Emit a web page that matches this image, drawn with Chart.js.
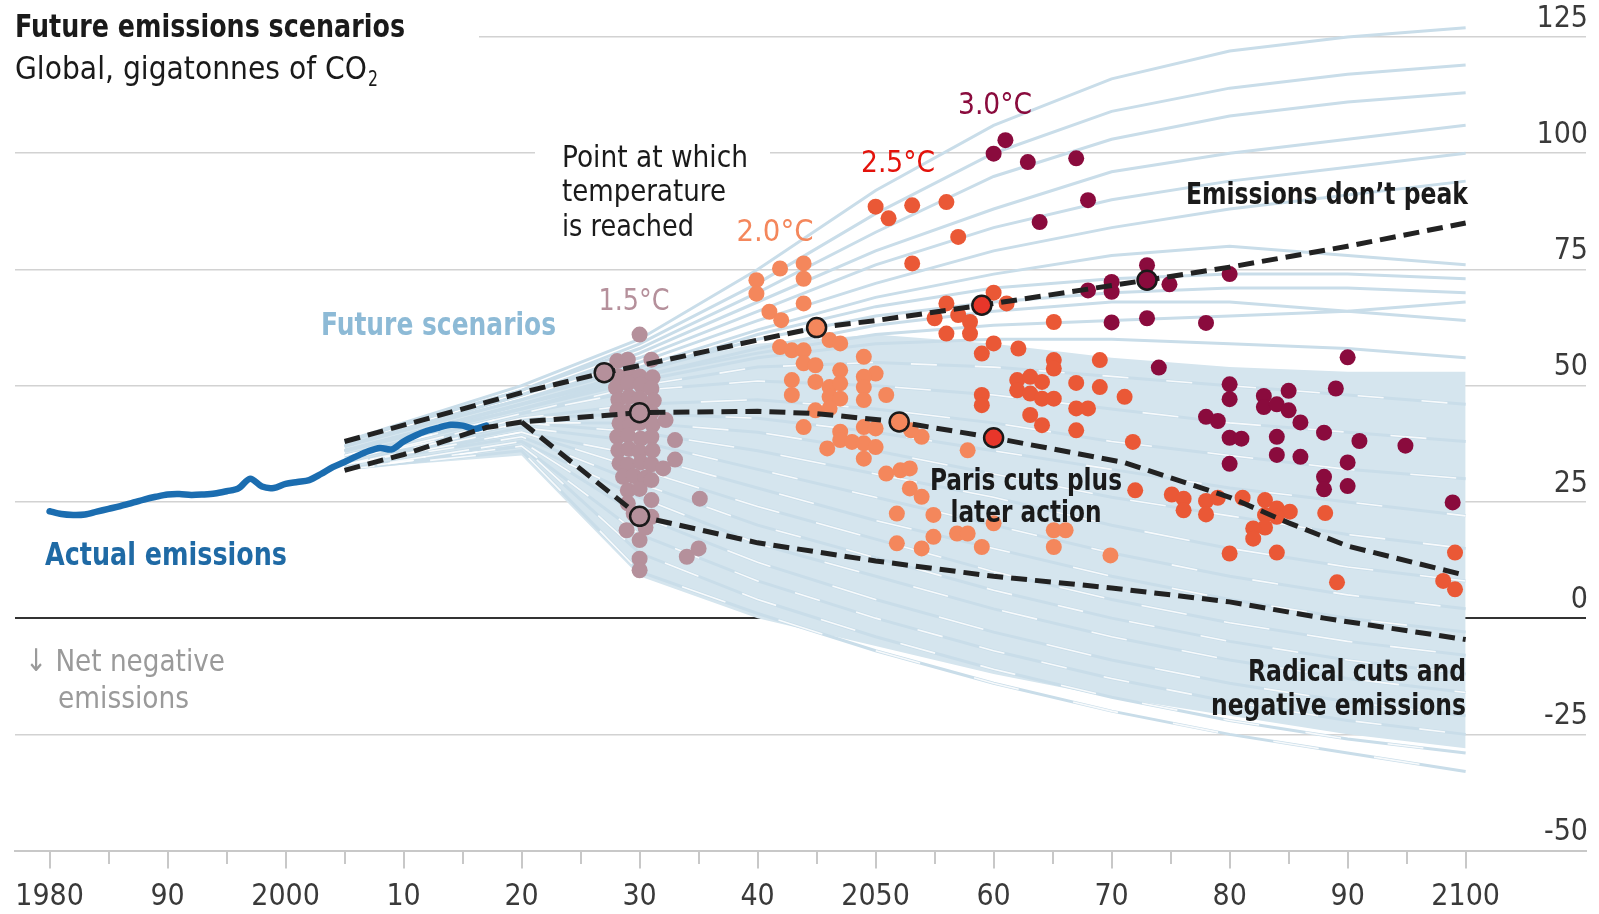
<!DOCTYPE html>
<html>
<head>
<meta charset="utf-8">
<script src="https://cdn.jsdelivr.net/npm/chart.js@4.4.0/dist/chart.umd.min.js"></script>
<style>
  html, body { margin: 0; padding: 0; background: #fff; }
  canvas { display: block; }
</style>
</head>
<body>
<canvas id="graficoEmisiones" width="1599" height="914"></canvas>
<script>
// ---- datos ----
const aniosEtiqueta = [1980, 1990, 2000, 2010, 2020, 2030, 2040, 2050, 2060, 2070, 2080, 2090, 2100];
const textosEtiqueta = ['1980', '90', '2000', '10', '20', '30', '40', '2050', '60', '70', '80', '90', '2100'];
const valoresEjeY = [-50, -25, 0, 25, 50, 75, 100, 125];

// emisiones reales
const aniosReales = [1980, 1981, 1982, 1983, 1984, 1985, 1986, 1987, 1988, 1989, 1990, 1991, 1992, 1993, 1994,
  1995, 1996, 1997, 1998, 1999, 2000, 2001, 2002, 2003, 2004, 2005, 2006, 2007, 2008, 2009, 2010, 2011, 2012,
  2013, 2014, 2015, 2016, 2017];
const emisionesReales = [23.0, 22.4, 22.2, 22.3, 22.9, 23.5, 24.1, 24.8, 25.5, 26.1, 26.6, 26.7, 26.5, 26.6, 26.8,
  27.3, 27.9, 30.0, 28.3, 28.0, 28.9, 29.3, 29.7, 31.0, 32.5, 33.6, 34.8, 35.9, 36.6, 36.3, 38.0, 39.3, 40.3,
  41.0, 41.6, 41.4, 40.7, 41.4];

// escenarios futuros (lineas celestes)
const aniosEscenario = [2005, 2020, 2030, 2040, 2050, 2060, 2070, 2080, 2090, 2100];
const escenariosAltos = [
  [38, 50, 60, 75, 92, 106, 116, 122, 125, 127],
  [38, 49, 59, 72, 87, 100, 109, 114, 117, 119],
  [38, 49, 58, 70, 83, 95, 103, 108, 111, 113],
  [37, 48, 57, 68, 79, 88, 96, 100, 103, 106],
  [37, 48, 56, 66, 76, 84, 90, 94, 97, 100],
  [37, 47, 55, 64, 72, 79, 84, 88, 91, 94],
  [37, 47, 54, 62, 69, 74, 78, 80, 78, 76],
  [36, 46, 53, 61, 67, 71, 73, 74, 74, 73],
  [36, 46, 53, 60, 65, 68, 70, 71, 71, 70],
  [36, 46, 52, 58, 63, 66, 68, 68, 66, 64],
  [36, 45, 52, 57, 61, 63, 64, 65, 66, 68],
  [36, 45, 51, 56, 59, 60, 60, 59, 58, 56]
];
const escenariosBajos = [
  [35, 44, 50, 54, 55, 54, 52, 50, 48, 46],
  [35, 44, 49, 51, 50, 48, 45, 42, 40, 38],
  [34, 43, 46, 47, 45, 42, 38, 35, 32, 30],
  [34, 43, 44, 43, 40, 36, 32, 28, 25, 22],
  [34, 42, 42, 40, 36, 31, 26, 22, 18, 15],
  [33, 42, 40, 36, 31, 26, 20, 15, 11, 8],
  [33, 41, 38, 32, 26, 20, 14, 9, 5, 2],
  [33, 40, 35, 28, 21, 15, 9, 4, 0, -3],
  [33, 40, 32, 24, 17, 10, 4, -1, -5, -8],
  [33, 39, 29, 20, 13, 6, 0, -5, -9, -12],
  [32, 38, 26, 16, 9, 2, -4, -9, -13, -16],
  [32, 38, 22, 12, 4, -3, -9, -14, -18, -21],
  [32, 37, 18, 8, 0, -7, -13, -18, -22, -25],
  [32, 37, 14, 4, -4, -11, -17, -22, -26, -29],
  [32, 36, 10, 1, -7, -14, -20, -25, -29, -33]
];
const bandaSuperior = [38, 47, 54, 59, 61, 59, 56, 54, 53, 53];
const bandaInferior = [32, 35, 9, 0, -6, -12, -17, -21, -25, -28];

// tres caminos (lineas punteadas)
const aniosSinPico = [2005, 2010, 2020, 2027, 2030, 2040, 2045, 2050, 2059, 2073, 2080, 2090, 2100];
const valoresSinPico = [38, 41.5, 48.5, 52.8, 54.3, 59.8, 62.5, 64, 67.3, 72.7, 75.5, 80, 85];
const aniosParis = [2005, 2010, 2017, 2020, 2030, 2040, 2045, 2052, 2060, 2071, 2080, 2085, 2090, 2100];
const valoresParis = [31.8, 35.2, 41, 42.2, 44.2, 44.5, 44, 42.2, 38.8, 33.5, 26, 20.5, 15.5, 9.2];
const aniosRadical = [2020, 2030, 2040, 2050, 2060, 2070, 2080, 2088, 2100];
const valoresRadical = [42.2, 21.9, 16.2, 12.3, 9, 6.5, 3.5, 0, -4.6];

// puntos donde se alcanza la temperatura, sobre los caminos
const marcadores15 = [[2027, 52.8], [2030, 44.2], [2030, 21.9]];
const marcadores20 = [[2045, 62.5], [2052, 42.2]];
const marcadores25 = [[2059, 67.3], [2060, 38.8]];
const marcadores30 = [[2073, 72.7]];

// puntos de cada escenario
const puntos15 = [
  [2030, 61], [2028.1, 55.3], [2029, 55.6], [2031, 55.6],
  [2028.2, 52], [2029.1, 52.4], [2030, 52], [2031.1, 51.8],
  [2028, 49.6], [2029, 50.5], [2030.1, 50.2], [2031, 49.4],
  [2028.2, 47], [2029.1, 47.6], [2030, 47.3], [2031.2, 46.8],
  [2028.1, 44.7], [2029, 44.4], [2030.1, 45], [2031, 44.2],
  [2028.3, 41.9], [2029.2, 41.5], [2030, 42], [2031.1, 41.6],
  [2028.1, 39], [2029, 39.3], [2030.1, 38.6], [2031, 39],
  [2028.2, 36.1], [2029.1, 36.4], [2030, 35.8], [2031.1, 36.1],
  [2028.3, 33.3], [2029, 33], [2030.1, 33.5], [2031, 33.1],
  [2028.6, 30.4], [2029.5, 30.6], [2030.5, 30.2],
  [2029, 27.5], [2030, 27.8],
  [2032.2, 42.6], [2033, 38.3], [2033, 34.1], [2032, 32.2], [2031, 29.7], [2035.1, 25.7],
  [2029, 24.7], [2031, 25.4], [2028.9, 18.9], [2030, 16.8], [2031, 21.8], [2030, 12.8],
  [2030, 10.3], [2034, 13.2], [2035, 15], [2029.5, 22.5], [2030.5, 19.5]
];
const puntos20 = [
  [2041.9, 75.2], [2043.9, 76.3], [2043.9, 73.0], [2039.9, 72.7], [2039.9, 69.8], [2043.9, 67.7],
  [2041.0, 65.9], [2042.0, 64.1], [2046.1, 59.8], [2047.0, 59.1], [2041.9, 58.3], [2042.9, 57.6],
  [2043.9, 57.6], [2043.9, 54.8], [2044.9, 54.4], [2047.0, 53.3], [2049.0, 56.2], [2050.0, 52.6],
  [2049.0, 51.9], [2042.9, 51.2], [2044.9, 50.8], [2046.1, 49.7], [2047.0, 50.5], [2042.9, 48.0],
  [2046.1, 47.6], [2047.0, 47.2], [2049.0, 49.7], [2049.0, 46.9], [2050.9, 48.0], [2044.9, 44.7],
  [2046.1, 45.1], [2043.9, 41.1], [2047.0, 40.1], [2049.0, 41.1], [2050.0, 40.8], [2045.9, 36.5],
  [2047.0, 38.3], [2048.0, 37.9], [2049.0, 37.6], [2050.0, 36.8], [2049.0, 34.3], [2050.9, 31.1],
  [2052.1, 31.8], [2052.9, 32.2], [2052.9, 27.9], [2053.9, 26.1], [2051.8, 22.5], [2051.8, 16.1],
  [2053.9, 15.0], [2053.9, 39.0], [2053.0, 40.4], [2057.8, 36.1], [2054.9, 22.2], [2054.9, 17.5],
  [2056.9, 18.2], [2057.8, 18.2], [2059.0, 15.3], [2060.0, 20.4], [2065.1, 18.9], [2066.1, 18.9],
  [2065.1, 15.3], [2069.9, 13.5]
];
const puntos25 = [
  [2050.0, 88.5], [2051.1, 86.0], [2053.1, 88.8], [2056.0, 89.5], [2057.0, 82.0], [2053.1, 76.3],
  [2060.0, 70.0], [2056.0, 67.7], [2061.1, 67.7], [2055.0, 64.5], [2057.0, 65.2], [2058.0, 63.7],
  [2056.0, 61.2], [2058.0, 61.2], [2065.1, 63.7], [2060.0, 59.1], [2059.0, 56.9], [2062.1, 58.0],
  [2065.1, 55.5], [2065.1, 53.7], [2069.0, 55.5], [2062.0, 51.2], [2063.1, 51.9], [2064.1, 50.8],
  [2062.0, 49.0], [2063.1, 48.3], [2064.1, 47.2], [2065.1, 47.2], [2067.0, 50.6], [2069.0, 49.7],
  [2071.1, 47.6], [2059.0, 48.0], [2059.0, 45.8], [2067.0, 45.1], [2068.0, 45.1], [2063.1, 43.7],
  [2064.1, 41.5], [2067.0, 40.4], [2071.8, 37.9], [2072.0, 27.5], [2075.1, 26.6], [2076.1, 25.7],
  [2076.1, 23.2], [2078.0, 25.2], [2078.0, 22.3], [2079.0, 25.9], [2081.1, 25.9], [2083.0, 25.4],
  [2084.0, 23.6], [2085.1, 22.9], [2083.0, 22.2], [2083.0, 19.5], [2082.0, 19.3], [2082.0, 17.1],
  [2084.0, 21.8], [2088.1, 22.6], [2080.0, 13.9], [2084.0, 14.1], [2089.1, 7.7], [2099.1, 14.1],
  [2098.1, 8.0], [2099.1, 6.2]
];
const puntos30 = [
  [2061.0, 102.8], [2060.0, 99.9], [2062.9, 98.1], [2067.0, 98.9], [2068.0, 89.9], [2063.9, 85.2],
  [2068.0, 70.5], [2070.0, 72.3], [2070.0, 70.2], [2070.0, 63.6], [2073.0, 75.9], [2074.9, 71.8],
  [2080.0, 74.0], [2073.0, 64.5], [2078.0, 63.5], [2074.0, 53.9], [2090.0, 56.1], [2080.0, 50.3],
  [2080.0, 47.1], [2089.0, 49.4], [2082.9, 47.8], [2085.0, 48.9], [2082.9, 45.4], [2084.0, 46.0],
  [2085.0, 44.7], [2078.0, 43.3], [2079.0, 42.4], [2086.0, 42.1], [2080.0, 38.8], [2081.0, 38.6],
  [2084.0, 39.0], [2088.0, 39.9], [2091.0, 38.1], [2094.9, 37.1], [2084.0, 35.1], [2086.0, 34.7],
  [2080.0, 33.2], [2090.0, 33.5], [2088.0, 30.4], [2088.0, 27.7], [2090.0, 28.4], [2098.9, 24.9]
];

// ---- estilo ----
const colores = {
  t15: '#b5909b', t20: '#f4875c', t25: '#ea5836', t25marca: '#e8362a', t30: '#8a0b3d',
  linea: '#c9dde9', banda: '#d5e5ee', real: '#1b6db0', punteada: '#222'
};

function existeFuente(nombre) {
  const c = document.createElement('canvas').getContext('2d');
  const s = 'Future emissions scenarios 1980 2050';
  c.font = '40px monospace';
  const a = c.measureText(s).width;
  c.font = `40px "${nombre}", monospace`;
  return Math.abs(c.measureText(s).width - a) > 0.5;
}
const angosta = ['Liberation Sans Narrow', 'DejaVu Sans Condensed', 'Roboto Condensed'].find(existeFuente);
const FUENTE = (angosta ? `"${angosta}", ` : '') + 'Roboto, sans-serif';
const TAM_EJE = angosta ? 30 : 27;

const xy = (xs, ys) => xs.map((x, i) => ({ x, y: ys[i] }));
const pares = (lista) => lista.map(p => ({ x: p[0], y: p[1] }));

function texto(ctx, str, x, y, o) {
  ctx.save();
  ctx.font = `${o.peso || 'normal'} ${o.tam}px ${FUENTE}`;
  ctx.fillStyle = o.color;
  ctx.textBaseline = 'alphabetic';
  const w = ctx.measureText(str).width;
  const sx = o.ancho ? o.ancho / w : 1;
  let x0 = x;
  if (o.alinear === 'right') x0 = x - w * sx;
  else if (o.alinear === 'center') x0 = x - w * sx / 2;
  ctx.translate(x0, y);
  ctx.scale(sx, 1);
  ctx.fillText(str, 0, 0);
  ctx.restore();
}

const pluginTextos = {
  id: 'textos',
  beforeDatasetsDraw(chart) {
    const ctx = chart.ctx;
    ctx.save();
    ctx.fillStyle = '#fff';
    ctx.fillRect(0, 30, 479, 14);     // linea de 125 empieza despues del titulo
    ctx.fillRect(535, 146, 235, 14);  // hueco para "Point at which"
    ctx.restore();
  },
  afterDraw(chart) {
    const ctx = chart.ctx;
    const oscuro = '#1a1a1a';
    texto(ctx, 'Future emissions scenarios', 15, 37, { tam: 32, peso: 'bold', color: oscuro, ancho: 390 });
    texto(ctx, 'Global, gigatonnes of CO', 15, 79, { tam: 32, color: oscuro, ancho: 352 });
    texto(ctx, '2', 368, 86, { tam: 21, color: oscuro, ancho: 10 });

    texto(ctx, 'Point at which', 562, 167, { tam: 31, color: oscuro, ancho: 186 });
    texto(ctx, 'temperature', 562, 201, { tam: 31, color: oscuro, ancho: 164 });
    texto(ctx, 'is reached', 562, 236, { tam: 31, color: oscuro, ancho: 132 });

    texto(ctx, '1.5°C', 634, 310, { tam: 31, color: colores.t15, ancho: 71, alinear: 'center' });
    texto(ctx, '2.0°C', 775, 241, { tam: 31, color: colores.t20, ancho: 77, alinear: 'center' });
    texto(ctx, '2.5°C', 898, 172, { tam: 31, color: '#e3120b', ancho: 74, alinear: 'center' });
    texto(ctx, '3.0°C', 995, 114, { tam: 31, color: colores.t30, ancho: 74, alinear: 'center' });

    texto(ctx, 'Future scenarios', 321, 335, { tam: 32, peso: 'bold', color: '#8dbad6', ancho: 235 });
    texto(ctx, 'Actual emissions', 45, 565, { tam: 32, peso: 'bold', color: '#1f6aa5', ancho: 242 });
    texto(ctx, 'Emissions don\u2019t peak', 1468, 204, { tam: 31, peso: 'bold', color: oscuro, ancho: 282, alinear: 'right' });
    texto(ctx, 'Paris cuts plus', 1026, 490, { tam: 31, peso: '600', color: oscuro, ancho: 192, alinear: 'center' });
    texto(ctx, 'later action', 1026, 522, { tam: 31, peso: '600', color: oscuro, ancho: 151, alinear: 'center' });
    texto(ctx, 'Radical cuts and', 1466, 681, { tam: 31, peso: '600', color: oscuro, ancho: 218, alinear: 'right' });
    texto(ctx, 'negative emissions', 1466, 715, { tam: 31, peso: '600', color: oscuro, ancho: 255, alinear: 'right' });

    texto(ctx, '\u2193 Net negative', 25, 671, { tam: 31, color: '#9a9a9a', ancho: 200 });
    texto(ctx, 'emissions', 58, 708, { tam: 31, color: '#9a9a9a', ancho: 131 });
  }
};

// ---- datasets ----
const datasets = [];
datasets.push({
  type: 'line', data: xy(aniosEscenario, bandaSuperior), fill: '+1', backgroundColor: colores.banda,
  borderWidth: 0, pointRadius: 0, order: 100
});
datasets.push({
  type: 'line', data: xy(aniosEscenario, bandaInferior), fill: false,
  borderWidth: 0, pointRadius: 0, order: 100
});
[...escenariosAltos, ...escenariosBajos].forEach(serie => {
  datasets.push({
    type: 'line', data: xy(aniosEscenario, serie), borderColor: colores.linea, borderWidth: 3,
    pointRadius: 0, fill: false, clip: false, order: 90
  });
});
// vetas blancas entre las lineas de la zona densa
escenariosBajos.forEach((serie, i) => {
  datasets.push({
    type: 'line', data: xy(aniosEscenario, serie), borderColor: 'rgba(255,255,255,0.85)', borderWidth: 1.6,
    borderDash: [26 + (i % 3) * 10, 38 + (i % 4) * 9], borderDashOffset: i * 23,
    pointRadius: 0, fill: false, order: 85
  });
});
datasets.push({
  type: 'line', data: xy(aniosReales, emisionesReales), borderColor: colores.real, borderWidth: 6.5,
  pointRadius: 0, tension: 0.3, borderCapStyle: 'round', order: 60
});
const grupos = [[puntos15, colores.t15, 45], [puntos20, colores.t20, 44], [puntos25, colores.t25, 43], [puntos30, colores.t30, 42]];
grupos.forEach(([pts, color, orden]) => {
  datasets.push({
    type: 'scatter', data: pares(pts), backgroundColor: color, borderWidth: 0, pointRadius: 8, order: orden
  });
});
[[aniosSinPico, valoresSinPico], [aniosParis, valoresParis], [aniosRadical, valoresRadical]].forEach(([xs, ys]) => {
  datasets.push({
    type: 'line', data: xy(xs, ys), borderColor: colores.punteada, borderWidth: 5, borderDash: [16, 8],
    pointRadius: 0, fill: false, order: 20
  });
});
[[marcadores15, colores.t15], [marcadores20, colores.t20], [marcadores25, colores.t25marca], [marcadores30, colores.t30]]
  .forEach(([pts, color]) => {
    datasets.push({
      type: 'scatter', data: pares(pts), backgroundColor: color, borderColor: '#1a1a1a', borderWidth: 2.5,
      pointRadius: 9.5, order: 10
    });
  });

new Chart(document.getElementById('graficoEmisiones').getContext('2d'), {
  data: { datasets },
  plugins: [pluginTextos],
  options: {
    responsive: false,
    animation: false,
    devicePixelRatio: 1,
    layout: { padding: { left: 15, right: 0, top: 37, bottom: 0 } },
    plugins: { legend: { display: false }, tooltip: { enabled: false } },
    scales: {
      x: {
        type: 'linear', position: 'bottom', min: 1977.07, max: 2110.2,
        afterFit: (s) => { s.height = 63.4; },
        border: { display: true, color: '#c8c8c8', width: 2 },
        grid: {
          drawOnChartArea: false, drawTicks: true, tickLength: 18, lineWidth: 2,
          tickColor: (c) => (c.tick && c.tick.value > 2100 ? 'rgba(0,0,0,0)' : '#c8c8c8'),
          // marcas de cada 5 anios mas cortas
          tickBorderDash: (c) => (c.tick && c.tick.value % 10 !== 0 ? [12, 60] : [])
        },
        ticks: {
          stepSize: 5, includeBounds: false, autoSkip: false, maxRotation: 0, padding: 11,
          color: '#3a3a3a', font: { family: FUENTE, size: TAM_EJE },
          callback: (v) => {
            const i = aniosEtiqueta.indexOf(v);
            return i >= 0 ? textosEtiqueta[i] : '';
          }
        }
      },
      y: {
        type: 'linear', position: 'right', min: -50, max: 125,
        afterFit: (s) => { s.width = 13; },
        border: { display: false },
        grid: {
          drawTicks: false,
          color: (c) => (c.tick && c.tick.value === 0 ? '#333' : '#d2d2d2'),
          lineWidth: (c) => (c.tick && c.tick.value === 0 ? 2 : 1.5)
        },
        ticks: {
          stepSize: 25, mirror: true, labelOffset: -18, padding: 2,
          color: '#3a3a3a', font: { family: FUENTE, size: TAM_EJE },
          callback: (v) => (valoresEjeY.includes(v) ? String(v) : '')
        }
      }
    }
  }
});
</script>
</body>
</html>
